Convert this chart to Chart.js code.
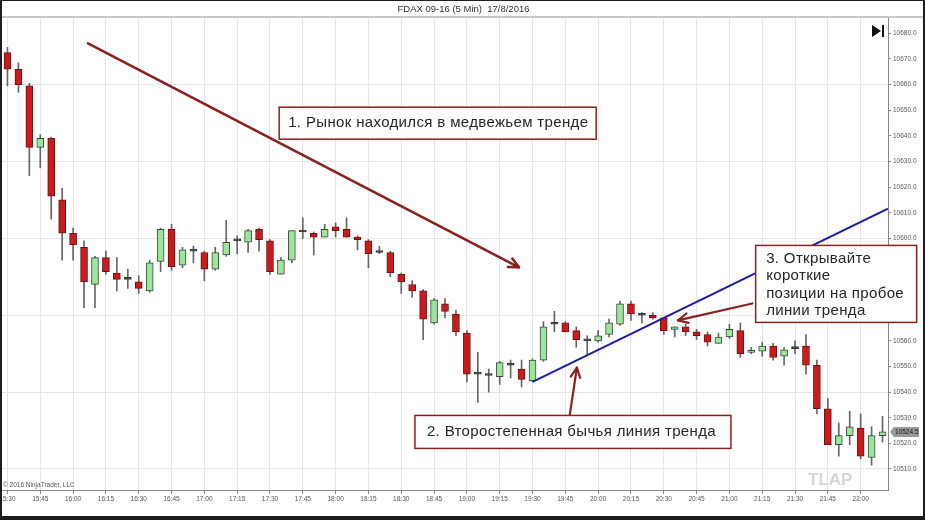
<!DOCTYPE html>
<html>
<head>
<meta charset="utf-8">
<script src="https://cdn.jsdelivr.net/npm/chart.js@4.4.0/dist/chart.umd.min.js"></script>
<style>
html, body { margin: 0; padding: 0; background: #fff; }
</style>
</head>
<body>
<canvas id="chart" width="925" height="520"></canvas>
<script>
// 5 min bars, FDAX 09-16, 17/8/2016
const times = [
  '15:30','15:35','15:40','15:45','15:50','15:55','16:00','16:05','16:10','16:15','16:20','16:25',
  '16:30','16:35','16:40','16:45','16:50','16:55','17:00','17:05','17:10','17:15','17:20','17:25',
  '17:30','17:35','17:40','17:45','17:50','17:55','18:00','18:05','18:10','18:15','18:20','18:25',
  '18:30','18:35','18:40','18:45','18:50','18:55','19:00','19:05','19:10','19:15','19:20','19:25',
  '19:30','19:35','19:40','19:45','19:50','19:55','20:00','20:05','20:10','20:15','20:20','20:25',
  '20:30','20:35','20:40','20:45','20:50','20:55','21:00','21:05','21:10','21:15','21:20','21:25',
  '21:30','21:35','21:40','21:45','21:50','21:55','22:00','22:05','22:10'
];
const opens = [
  10672.5,10666,10659.5,10635.5,10639,10615,10602,10596.5,10582,10592.5,10586.5,10584,
  10583,10579.5,10591,10603.5,10589.5,10595,10594.5,10588,10593.5,10599,10598.5,10603.5,
  10599,10586,10591.5,10602.5,10602,10600.5,10604.5,10603.5,10600.5,10599,10594.5,10594.5,
  10586,10582,10579.5,10567,10574.5,10570.5,10563,10547,10546.5,10546,10550.5,10549,
  10544.5,10552.5,10566.5,10567,10564,10560,10560,10562.5,10566.5,10574.5,10570,10570,
  10569,10564.5,10565.5,10563.5,10562.5,10559,10561.5,10564,10555.5,10556,10558,10554,
  10557,10558,10550.5,10533.5,10519.5,10523,10526,10514.5,10523
];
const highs = [
  10674.5,10668.5,10660.5,10640.5,10639.5,10619.5,10604,10599,10593,10595,10592.5,10588,
  10585.5,10591.5,10604,10605.5,10596.5,10597,10595,10596.5,10607,10601,10603.5,10604,
  10599.5,10592.5,10603,10608,10602.5,10605.5,10606,10608,10601,10599.5,10597,10595,
  10586.5,10583.5,10580,10576.5,10576.5,10572,10564,10555.5,10549,10552,10552.5,10552.5,
  10553,10567.5,10571.5,10567.5,10565.5,10562,10564,10568.5,10575.5,10575.5,10571,10571,
  10569,10565.5,10566.5,10564.5,10563.5,10563,10566.5,10567,10557.5,10559.5,10559,10557.5,
  10560,10562.5,10552.5,10537.5,10528,10532.5,10531.5,10526.5,10530.5
];
const lows = [
  10659.5,10657,10624.5,10627.5,10607.5,10591.5,10591.5,10573,10573,10586,10579.5,10580.5,
  10578.5,10579,10587,10587.5,10588.5,10590.5,10583.5,10587.5,10593,10594,10594.5,10595,
  10586,10586,10590.5,10600,10593.5,10600.5,10600.5,10600.5,10595.5,10588.5,10594,10585,
  10578.5,10577,10560.5,10566.5,10569,10562,10544,10536,10540,10543,10545.5,10542,
  10544,10552,10563.5,10563.5,10557.5,10555,10559.5,10561.5,10566,10568,10567,10568.5,
  10562.5,10561.5,10562,10560.5,10558,10559,10561,10553.5,10555,10554,10552.5,10550.5,
  10555,10547,10531.5,10519.5,10515,10519.5,10514,10511.5,10520.5
];
const closes = [
  10666,10660,10635.5,10639,10616.5,10602,10597.5,10583,10592.5,10587,10584,10584,
  10580.5,10590.5,10603.5,10589,10595.5,10595,10588,10594.5,10598.5,10599,10603,10599.5,
  10587,10591.5,10603,10602.5,10600.5,10603.5,10603,10600.5,10599.5,10594,10594.5,10586.5,
  10583,10579.5,10568.5,10576,10571.5,10563.5,10547,10547,10546.5,10551.5,10550.5,10545,
  10552.5,10565.5,10566.5,10563.5,10560.5,10560,10562,10567,10574.5,10570.5,10570,10569,
  10564,10565.5,10563.5,10562,10559.5,10561.5,10564.5,10555,10556,10558,10553.5,10556.5,
  10557,10550.5,10533.5,10519.5,10523,10526.5,10515,10523,10524.5
];

const FONT = '"Liberation Sans", Arial, sans-serif';
const ANNO_RED = '#8a2020';
const TREND_BLUE = '#1c1ca6';

// annotations placed in (bar index, price) units
const trendLine = { from: [48, 10544], to: [80.5, 10611.6] };
const arrows = [
  { from: [7.36, 10676.1], to: [46.76, 10588.7], width: 2.6 },
  { from: [51.4, 10530.9], to: [52.06, 10549.6], width: 2.2 },
  { from: [68.1, 10574.6], to: [61.29, 10568.0], width: 2.2 }
];
const callouts = [
  { at: [24.84, 10651.2], w: 317, h: 32, padL: 9, first: 20, lines: ['1. Рынок находился в медвежьем тренде'] },
  { at: [37.25, 10530.9], w: 316, h: 33, padL: 12, first: 21, lines: ['2. Второстепенная бычья линия тренда'] },
  { at: [68.4, 10597.25], w: 161, h: 77, padL: 10.5, first: 17.7, lines: ['3. Открывайте', 'короткие', 'позиции на пробое', 'линии тренда'] }
];

function dir(i) { return closes[i] > opens[i] ? 1 : (closes[i] < opens[i] ? -1 : 0); }

function drawArrow(ctx, x1, y1, x2, y2, color, lw) {
  ctx.save();
  ctx.strokeStyle = color;
  ctx.lineWidth = lw;
  ctx.lineCap = 'round';
  ctx.lineJoin = 'round';
  ctx.beginPath(); ctx.moveTo(x1, y1); ctx.lineTo(x2, y2); ctx.stroke();
  const a = Math.atan2(y2 - y1, x2 - x1), L = 11, s = 0.45;
  ctx.beginPath();
  ctx.moveTo(x2 - L * Math.cos(a - s), y2 - L * Math.sin(a - s));
  ctx.lineTo(x2, y2);
  ctx.lineTo(x2 - L * Math.cos(a + s), y2 - L * Math.sin(a + s));
  ctx.stroke();
  ctx.restore();
}

const annotationsPlugin = {
  id: 'annotations',
  afterDatasetsDraw(chart) {
    const { ctx, scales: { x, y }, chartArea } = chart;
    const px = p => [x.getPixelForValue(p[0]), y.getPixelForValue(p[1])];

    ctx.save();
    ctx.beginPath();
    ctx.rect(chartArea.left, chartArea.top, chartArea.right - chartArea.left, chartArea.bottom - chartArea.top);
    ctx.clip();

    // trend line
    const a = px(trendLine.from), b = px(trendLine.to);
    ctx.strokeStyle = TREND_BLUE;
    ctx.lineWidth = 2;
    ctx.beginPath(); ctx.moveTo(a[0], a[1]); ctx.lineTo(b[0], b[1]); ctx.stroke();

    arrows.forEach(ar => {
      const p1 = px(ar.from), p2 = px(ar.to);
      drawArrow(ctx, p1[0], p1[1], p2[0], p2[1], ANNO_RED, ar.width);
    });
    ctx.restore();

    // text boxes
    ctx.save();
    callouts.forEach(c => {
      const [bx, by] = px(c.at);
      ctx.fillStyle = '#fff';
      ctx.fillRect(bx, by, c.w, c.h);
      ctx.strokeStyle = ANNO_RED;
      ctx.lineWidth = 1.5;
      ctx.strokeRect(bx, by, c.w, c.h);
      ctx.fillStyle = '#262626';
      ctx.font = '15px ' + FONT;
      ctx.letterSpacing = '0.35px';
      ctx.textBaseline = 'alphabetic';
      c.lines.forEach((t, k) => ctx.fillText(t, bx + c.padL, by + c.first + k * 17.2));
    });
    ctx.letterSpacing = '0px';
    ctx.restore();
  },
  afterDraw(chart) {
    const { ctx, chartArea, scales: { y }, width, height } = chart;
    ctx.save();
    // line under title
    ctx.fillStyle = '#c9c9c9';
    ctx.fillRect(0, chartArea.top - 2, width, 2);

    // "go to end" icon
    ctx.fillStyle = '#111';
    ctx.beginPath();
    ctx.moveTo(872, 25); ctx.lineTo(881, 31); ctx.lineTo(872, 37); ctx.closePath();
    ctx.fill();
    ctx.fillRect(882, 25, 2, 12);

    // copyright
    ctx.fillStyle = '#555';
    ctx.font = '6.5px ' + FONT;
    ctx.textBaseline = 'alphabetic';
    ctx.fillText('© 2016 NinjaTrader, LLC', 3, chartArea.bottom - 3);

    // watermark
    ctx.fillStyle = '#d6d6d6';
    ctx.font = 'bold 17px ' + FONT;
    ctx.fillText('TLAP', 808, chartArea.bottom - 5);

    // last price marker
    const last = closes[closes.length - 1];
    const ly = Math.round(y.getPixelForValue(last));
    const lx = chartArea.right + 2;
    ctx.fillStyle = '#9a9a9a';
    ctx.beginPath();
    ctx.moveTo(lx, ly);
    ctx.lineTo(lx + 4, ly - 5);
    ctx.lineTo(lx + 29, ly - 5);
    ctx.lineTo(lx + 29, ly + 5);
    ctx.lineTo(lx + 4, ly + 5);
    ctx.closePath();
    ctx.fill();
    ctx.fillStyle = '#111';
    ctx.font = '6.5px ' + FONT;
    ctx.textBaseline = 'middle';
    ctx.fillText(last.toFixed(1), lx + 5, ly + 0.5);

    // outer frame
    ctx.fillStyle = '#1e1e1e';
    ctx.fillRect(0, 0, 2, height);
    ctx.fillRect(width - 2, 0, 2, height);
    ctx.fillRect(0, 0, width, 1);
    ctx.fillRect(0, height - 4, width, 4);
    ctx.restore();
  }
};

new Chart(document.getElementById('chart'), {
  type: 'bar',
  data: {
    labels: times,
    datasets: [
      {
        label: 'body',
        data: opens.map((o, i) => [o, closes[i]]),
        grouped: false,
        order: 0,
        barThickness: 7,
        minBarLength: 2,
        borderWidth: 1,
        borderSkipped: false,
        backgroundColor: ctx => { const d = dir(ctx.dataIndex); return d > 0 ? '#9be69b' : (d < 0 ? '#c81c1c' : '#333'); },
        borderColor: ctx => { const d = dir(ctx.dataIndex); return d > 0 ? '#3a4a3a' : (d < 0 ? '#6e1010' : '#333'); }
      },
      {
        label: 'wick',
        data: lows.map((l, i) => [l, highs[i]]),
        grouped: false,
        order: 1,
        barThickness: 1,
        borderWidth: 0,
        backgroundColor: '#666'
      }
    ]
  },
  options: {
    responsive: false,
    animation: false,
    layout: { padding: { left: 2, right: 0, top: 0, bottom: 0 } },
    plugins: {
      legend: { display: false },
      tooltip: { enabled: false },
      title: {
        display: true,
        text: 'FDAX 09-16 (5 Min)  17/8/2016',
        color: '#333',
        font: { family: FONT, size: 9.5, weight: 'normal' },
        padding: { top: 3.3, bottom: 3.3 }
      }
    },
    scales: {
      x: {
        type: 'category',
        offset: true,
        grid: {
          offset: false,
          color: ctx => (ctx.index % 3 === 0 ? '#e6e6e6' : 'transparent'),
          tickColor: ctx => (ctx.index % 3 === 0 ? '#888' : 'transparent'),
          tickLength: 4
        },
        border: { color: '#888' },
        ticks: {
          autoSkip: false,
          maxRotation: 0,
          minRotation: 0,
          padding: 1,
          color: '#555',
          font: { family: FONT, size: 6.5 },
          callback: function (val, idx) { return idx % 3 === 0 ? this.getLabelForValue(val) : ''; }
        },
        afterFit: s => { s.height = 30; s.paddingLeft = 0; s.paddingRight = 0; }
      },
      y: {
        position: 'right',
        min: 10501.8,
        max: 10686,
        grid: {
          color: ctx => (ctx.tick && ctx.tick.value % 30 === 10 ? '#e6e6e6' : 'transparent'),
          tickColor: '#888',
          tickLength: 3
        },
        border: { color: '#888' },
        ticks: {
          stepSize: 10,
          includeBounds: false,
          padding: 2,
          color: '#555',
          font: { family: FONT, size: 6.5 },
          callback: v => v.toFixed(1)
        },
        afterFit: s => { s.width = 37; }
      }
    }
  },
  plugins: [annotationsPlugin]
});
</script>
</body>
</html>
